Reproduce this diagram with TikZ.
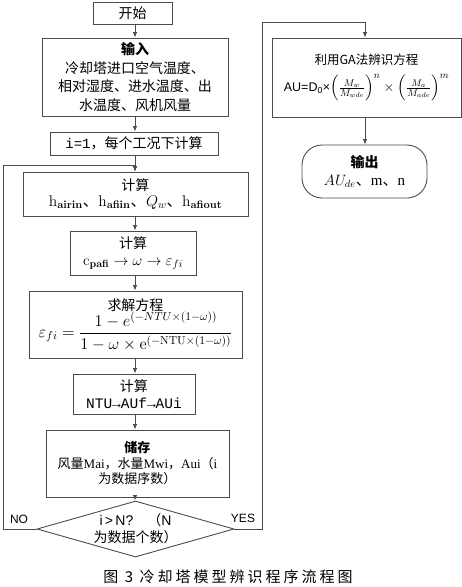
\RequirePackage{fix-cm}
\documentclass[tikz,border=0pt]{standalone}
\usepackage{amsmath}
\usepackage[no-math]{fontspec}
\setmainfont{Noto Sans CJK SC}
\newfontfamily\lsans{Liberation Sans}
\newfontfamily\lserif{Liberation Serif}
\newfontfamily\lmono{Liberation Mono}
\newfontfamily\capfont[LetterSpace=20]{Noto Sans CJK SC}
\usetikzlibrary{shapes.geometric,arrows.meta}
\begin{document}
\begin{tikzpicture}[x=1pt,y=-1pt,
  box/.style={draw=black!70, line width=0.9pt, rectangle, inner sep=0pt, align=center,
    font=\fontsize{14}{18.5}\selectfont},
  arr/.style={draw=black!70, line width=0.9pt, -{Latex[length=5.5pt,width=4.5pt]}},
  lbl/.style={inner sep=0pt, font=\lsans\fontsize{12}{14}\selectfont}]
\fill[white] (0,0) rectangle (462,587);
\useasboundingbox (0,0) rectangle (462,587);

\node[box, minimum width=79pt, minimum height=22pt] (start) at (132.5,13) {开始};
\node[box, minimum width=186pt, minimum height=78pt] (input) at (135,77)
  {\textbf{输入}\\冷却塔进口空气温度、\\相对湿度、进水温度、出\\水温度、风机风量};
\node[box, minimum width=168pt, minimum height=23pt] (init) at (134,143.5)
  {{\lmono i=1}，每个工况下计算};
\node[box, minimum width=225pt, minimum height=44pt] (calc1) at (135.5,194)
  {计算\\[-2pt]{\fontsize{15.5}{16}\selectfont$\mathrm{h}_{\mathbf{airin}}$、$\mathrm{h}_{\mathbf{afiin}}$、$Q_w$、$\mathrm{h}_{\mathbf{afiout}}$}};
\node[box, minimum width=126pt, minimum height=44pt] (calc2) at (133,253)
  {计算\\[-2pt]{\fontsize{15}{16}\selectfont$\mathrm{c}_{\mathbf{pafi}}\rightarrow\omega\rightarrow\varepsilon_{fi}$}};
\node[box, minimum width=213pt, minimum height=67pt] (solve) at (135.5,324.5)
  {求解方程\\[-1pt]{\fontsize{16.5}{18}\selectfont$\displaystyle\varepsilon_{fi}=\frac{1-e^{(-NTU\times(1-\omega))}}{1-\omega\times\mathrm{e}^{(-\mathrm{NTU}\times(1-\omega))}}$}};
\node[box, minimum width=122pt, minimum height=40pt] (calc3) at (134,394)
  {计算\\[-2pt]{\lmono\fontsize{14.5}{16}\selectfont NTU→AUf→AUi}};
\node[box, minimum width=183pt, minimum height=67pt, font=\fontsize{13}{15.5}\selectfont] (store) at (137.5,463.5)
  {\textbf{储存}\\风量{\lserif Mai}，水量{\lserif Mwi}，{\lserif Aui}（{\lserif i}\\为数据序数）};
\node[draw=black!70, line width=0.9pt, diamond, aspect=3.5, inner sep=0pt, align=center,
  minimum width=197pt, minimum height=56pt, font=\fontsize{14}{17}\selectfont] (dec) at (135.5,529)
  {{\lsans i\,>\,N?}\quad（{\lsans N}\\为数据个数）};

\node[box, minimum width=189pt, minimum height=79pt, font=\fontsize{12.5}{20}\selectfont] (ga) at (366.5,77.5)
  {利用GA法辨识方程\\[7pt]{\lsans AU=D\textsubscript{0}×}{\fontsize{14}{16}\selectfont$\left(\frac{M_w}{M_{wde}}\right)^{n}\times\left(\frac{M_a}{M_{ade}}\right)^{m}$}};
\node[box, rounded corners=20pt, minimum width=125pt, minimum height=53pt] (out) at (364.5,171.5)
  {\textbf{输出}\\{\fontsize{15}{16}\selectfont$AU_{de}$、{\lserif m}、{\lserif n}}};

\coordinate (colL) at (135,0);
\coordinate (colR) at (365,0);
\coordinate (nolc) at (3,165);
\coordinate (yesc) at (262,22);

\draw[arr] (start.south -| colL) -- (input.north -| colL);
\draw[arr] (input.south -| colL) -- (init.north -| colL);
\draw[arr] (init.south -| colL) -- (calc1.north -| colL);
\draw[arr] (calc1.south -| colL) -- (calc2.north -| colL);
\draw[arr] (calc2.south -| colL) -- (solve.north -| colL);
\draw[arr] (solve.south -| colL) -- (calc3.north -| colL);
\draw[arr] (calc3.south -| colL) -- (store.north -| colL);
\draw[arr] (store.south -| colL) -- (dec.north -| colL);
\draw[arr] (dec.west) -- (dec.west -| nolc) -- (nolc) -- (nolc -| colL) -- (calc1.north -| colL);
\draw[arr] (dec.east) -- (dec.east -| yesc) -- (yesc) -- (yesc -| colR) -- (ga.north -| colR);
\draw[arr] (ga.south -| colR) -- (out.north -| colR);

\node[lbl] (no) at (19,519) {NO};
\node[lbl] (yes) at (243,518.5) {YES};
\node[inner sep=0pt, font=\capfont\fontsize{15}{17}\selectfont] (cap) at (228,577) {图 3 冷却塔模型辨识程序流程图};
\end{tikzpicture}
\end{document}
